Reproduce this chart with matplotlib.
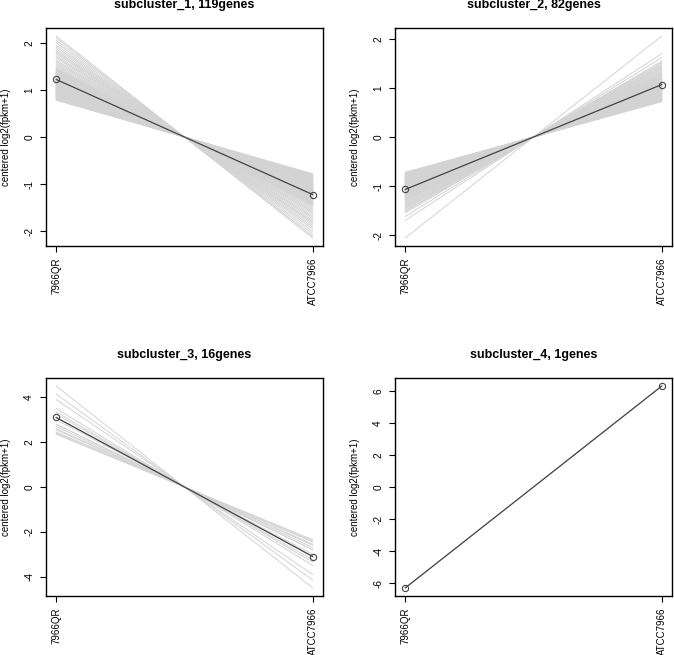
import matplotlib.pyplot as plt

plt.rcParams['font.family'] = ['Liberation Sans', 'DejaVu Sans']

samples = ["7966QR", "ATCC7966"]

titles = ["subcluster_1, 119genes", "subcluster_2, 82genes",
          "subcluster_3, 16genes", "subcluster_4, 1genes"]

# centered log2(fpkm+1) of each gene at 7966QR; ATCC7966 is the same value negated
sub1_genes = [
    2.14, 2.10, 2.05, 2.00, 1.95, 1.91, 1.87, 1.83, 1.80, 1.77,
    1.73, 1.70, 1.67, 1.63, 1.60, 1.57, 1.54, 1.51, 1.48, 1.46,
    1.44, 1.43, 1.41, 1.40, 1.39, 1.37, 1.36, 1.35, 1.34, 1.33,
    1.32, 1.31, 1.30, 1.29, 1.28, 1.27, 1.26, 1.25, 1.24, 1.23,
    1.22, 1.21, 1.21, 1.20, 1.19, 1.18, 1.17, 1.16, 1.16, 1.15,
    1.14, 1.13, 1.12, 1.12, 1.11, 1.10, 1.09, 1.08, 1.08, 1.07,
    1.06, 1.06, 1.05, 1.04, 1.03, 1.02, 1.01, 1.01, 1.00, 0.99,
    0.98, 0.97, 0.97, 0.96, 0.95, 0.94, 0.93, 0.92, 0.90, 0.89,
    0.88, 0.87, 0.86, 0.85, 0.84, 0.83, 0.82, 0.81, 0.80, 0.79,
    0.78, 1.42, 1.38, 1.29, 1.25, 1.19, 1.14, 1.10, 1.04, 1.00,
    0.96, 0.91, 0.86, 1.35, 1.31, 1.27, 1.23, 1.18, 1.13, 1.09,
    1.05, 0.99, 0.94, 0.88, 0.84, 1.20, 1.15, 1.07, 1.03,
]
sub2_genes = [
    -2.06, -1.70, -1.62, -1.55, -1.52, -1.50, -1.47, -1.45, -1.43, -1.41,
    -1.39, -1.37, -1.35, -1.33, -1.31, -1.30, -1.28, -1.27, -1.25, -1.24,
    -1.22, -1.21, -1.20, -1.18, -1.17, -1.16, -1.15, -1.14, -1.12, -1.11,
    -1.10, -1.09, -1.08, -1.07, -1.06, -1.05, -1.04, -1.03, -1.02, -1.01,
    -1.00, -0.99, -0.98, -0.97, -0.96, -0.95, -0.94, -0.93, -0.92, -0.91,
    -0.90, -0.89, -0.88, -0.87, -0.86, -0.85, -0.84, -0.83, -0.82, -0.81,
    -0.80, -0.79, -0.78, -0.77, -0.76, -0.75, -0.74, -0.73, -0.72, -1.26,
    -1.19, -1.13, -1.08, -1.03, -0.98, -0.94, -0.90, -0.86, -0.83, -0.80,
    -1.00, -0.95,
]
sub3_genes = [4.50, 4.15, 3.90, 3.50, 3.35, 3.25, 3.10, 3.00,
              2.80, 2.80, 2.70, 2.60, 2.55, 2.45, 2.40, 2.35]
sub4_genes = [-6.30]

# cluster centroid at 7966QR
centroids = [1.22, -1.07, 3.10, -6.30]

yticks = [[-2, -1, 0, 1, 2], [-2, -1, 0, 1, 2],
          [-4, -2, 0, 2, 4], [-6, -4, -2, 0, 2, 4, 6]]

genes = [sub1_genes, sub2_genes, sub3_genes, sub4_genes]

fig = plt.figure(figsize=(6.74, 6.55), dpi=100)
positions = [[0.0682, 0.6244, 0.411, 0.3328], [0.586, 0.6244, 0.411, 0.3328],
             [0.0682, 0.0901, 0.411, 0.3328], [0.586, 0.0901, 0.411, 0.3328]]

x = [1, 2]
for i in range(4):
    ax = fig.add_axes(positions[i])
    for v in genes[i]:
        ax.plot(x, [v, -v], color='#d3d3d3', lw=0.7, zorder=1)
    c = centroids[i]
    ax.plot(x, [c, -c], color='#444444', lw=0.9, marker='o', ms=4.5,
            mfc='none', mec='#444444', mew=0.8, zorder=3)

    top = max(abs(v) for v in genes[i])
    ax.set_ylim(-top * 1.08, top * 1.08)
    ax.set_xlim(0.96, 2.04)

    ax.set_xticks(x)
    ax.set_xticklabels(samples, rotation=90, fontsize=7, va='top')
    ax.set_yticks(yticks[i])
    ax.set_yticklabels([str(t) for t in yticks[i]], rotation=90, fontsize=7.3,
                       va='center')
    ax.tick_params(direction='out', length=4.5, width=0.8, pad=4)
    ax.set_ylabel("centered log2(fpkm+1)", fontsize=7)
    ax.yaxis.set_label_coords(-0.128, 0.5)
    for s in ax.spines.values():
        s.set_linewidth(1.0)
    ax.text(0.5, 1.105, titles[i], transform=ax.transAxes, ha='center',
            va='center', fontsize=9, fontweight='bold')

fig.savefig("out.png", dpi=100)
